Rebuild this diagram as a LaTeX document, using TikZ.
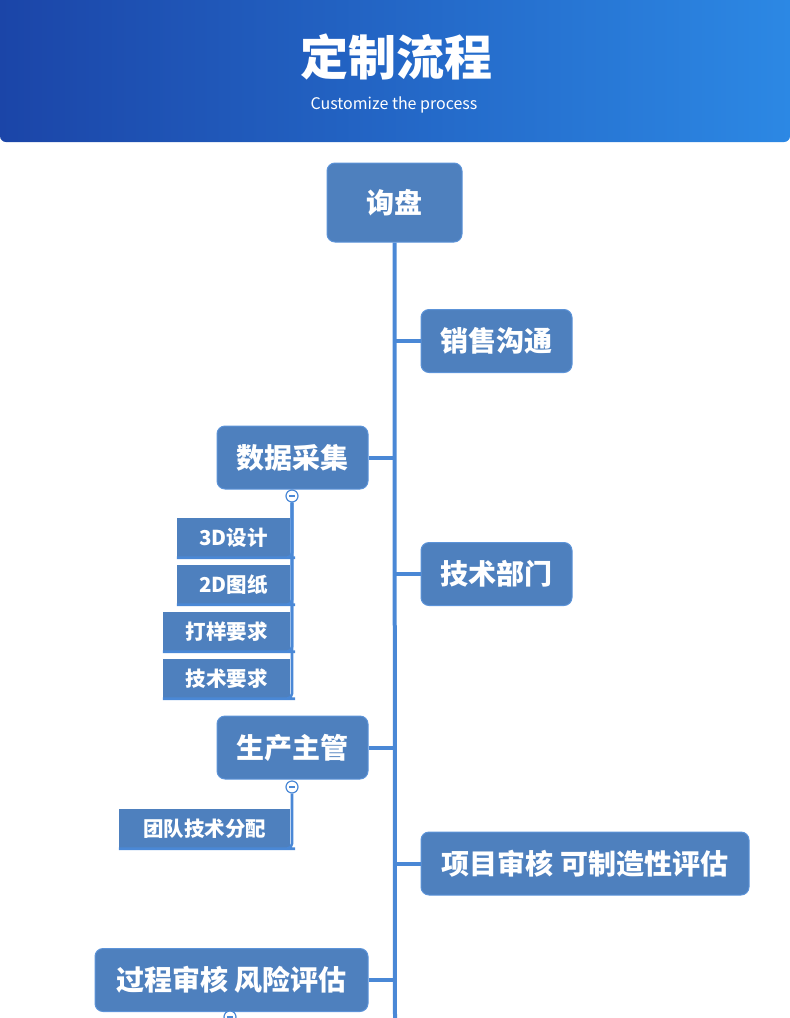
\documentclass[tikz,border=0pt]{standalone}
\usepackage{fontspec}
\newfontfamily\cjk{Noto Sans CJK SC}
\definecolor{boxblue}{HTML}{4E80BE}
\definecolor{boxline}{HTML}{5C93D8}
\definecolor{linkblue}{HTML}{4A88D6}
\definecolor{headleft}{HTML}{1B45A8}
\definecolor{headright}{HTML}{2C88E4}
\tikzset{
	mainbox/.style={draw=boxline,line width=1pt,fill=boxblue,rounded corners=8pt,text=white,
		font=\cjk\bfseries\fontsize{28}{30}\selectfont,minimum height=63pt,inner sep=0pt},
	subbox/.style={fill=boxblue,text=white,font=\cjk\bfseries\fontsize{20.5}{24}\selectfont,
		minimum height=40pt,inner sep=0pt},
	link/.style={draw=linkblue,line width=4pt},
	sublink/.style={draw=linkblue,line width=2.6pt,rounded corners=5pt},
	toggle/.style={circle,draw=linkblue,fill=white,line width=1.2pt,minimum size=12pt,inner sep=0pt,
		path picture={\draw[linkblue,line width=1.2pt] ([xshift=-3pt]path picture bounding box.center) -- ([xshift=3pt]path picture bounding box.center);}}
}
\begin{document}
\begin{tikzpicture}[x=1pt,y=-1pt]
	\useasboundingbox (0,0) rectangle (790,1018);

	% Draw the header
	\shade[left color=headleft,right color=headright,rounded corners=6pt] (0,-12) rectangle (790,142);
	\node (title) [text=white,font=\cjk\bfseries\fontsize{48}{50}\selectfont] at (396,57) {定制流程};
	\node (subtitle) [text=white,font=\cjk\fontsize{16}{18}\selectfont] at (394,105) {Customize the process};

	% Main steps
	\node (xunpan) [mainbox,minimum width=135pt,minimum height=79pt] at (394.5,202.5) {询盘};
	\coordinate (spineend) at (395,1020);
	\node (xiaoshou) [mainbox,minimum width=151pt] at (496.5,341) {销售沟通};
	\node (caiji) [mainbox,minimum width=151pt] at (292.5,457.5) {数据采集};
	\node (jishu) [mainbox,minimum width=151pt] at (496.5,574) {技术部门};
	\node (zhuguan) [mainbox,minimum width=151pt] at (292.5,747.5) {生产主管};
	\node (shenhe) [mainbox,minimum width=328pt] at (585,863.5) {项目审核\ 可制造性评估};
	\node (fengxian) [mainbox,minimum width=273pt] at (231.5,980) {过程审核\ 风险评估};

	% Spine and branches
	\draw[link] (xunpan.south) -- (spineend);
	\draw[link] (xiaoshou.west) -- (xiaoshou.west -| xunpan.south);
	\draw[link] (caiji.east) -- (caiji.east -| xunpan.south);
	\draw[link] (jishu.west) -- (jishu.west -| xunpan.south);
	\draw[link] (zhuguan.east) -- (zhuguan.east -| xunpan.south);
	\draw[link] (shenhe.west) -- (shenhe.west -| xunpan.south);
	\draw[link] (fengxian.east) -- (fengxian.east -| xunpan.south);

	% Sub items of data collection
	\node (sheji) [subbox,minimum width=113pt] at (233.5,537.5) {3D设计};
	\node (tuzhi) [subbox,minimum width=113pt] at (233.5,584.5) {2D图纸};
	\node (dayang) [subbox,minimum width=127pt] at (226.5,631.5) {打样要求};
	\node (yaoqiu) [subbox,minimum width=127pt] at (226.5,678.5) {技术要求};
	\node (fenpei) [subbox,minimum width=171pt] at (204.5,828.5) {团队技术分配};

	\node (caijitoggle) [toggle] at (292,496) {};
	\foreach \item in {sheji,tuzhi,dayang,yaoqiu}
		\draw[sublink] (\item.south west) -- (\item.south east) -| (caijitoggle.south);
	\node (zhuguantoggle) [toggle] at (292,787) {};
	\draw[sublink] (fenpei.south west) -- (fenpei.south east) -| (zhuguantoggle.south);
	\node (fengxiantoggle) [toggle] at (230,1017) {};

\end{tikzpicture}
\end{document}
